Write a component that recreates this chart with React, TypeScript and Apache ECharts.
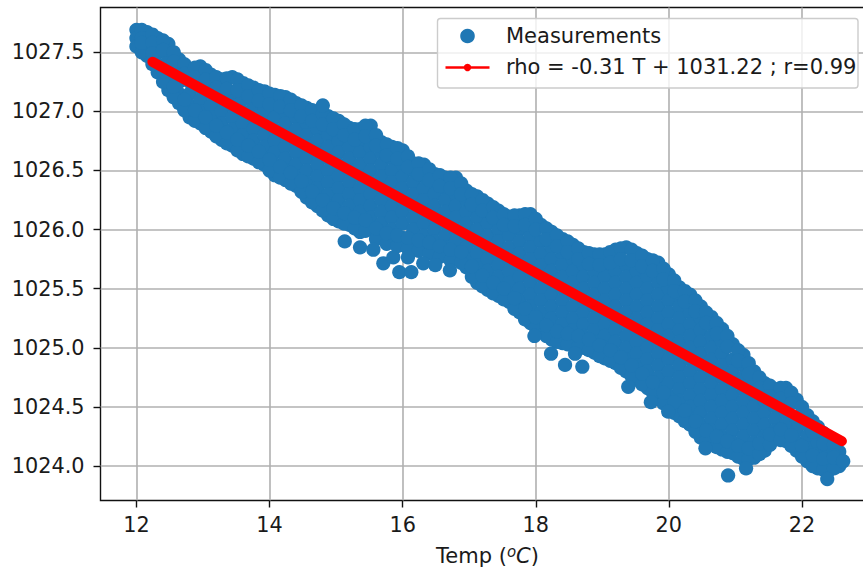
import React, { useEffect, useRef } from "react";
import * as echarts from "echarts";

const xTicks = [12, 14, 16, 18, 20, 22];
const yTicks = [1024, 1024.5, 1025, 1025.5, 1026, 1026.5, 1027, 1027.5];
const legendPoints = "Measurements";
const legendFit = "rho = -0.31 T + 1031.22 ; r=0.99";

const tempColumns = [
  12, 12.16, 12.32, 12.48, 12.64, 12.8, 12.96, 13.12, 13.28, 13.44, 13.6, 13.76, 13.92, 14.08, 14.24, 14.4, 14.56,
  14.72, 14.88, 15.04, 15.2, 15.36, 15.52, 15.68, 15.84, 16, 16.16, 16.32, 16.48, 16.64, 16.8, 16.96, 17.12, 17.28,
  17.44, 17.6, 17.76, 17.92, 18.08, 18.24, 18.4, 18.56, 18.72, 18.88, 19.04, 19.2, 19.36, 19.52, 19.68, 19.84, 20,
  20.16, 20.32, 20.48, 20.64, 20.8, 20.96, 21.12, 21.28, 21.44, 21.6, 21.76, 21.92, 22.08, 22.24, 22.4, 22.56,
];

const rhoColumns = [
  [1027.69, 1027.62, 1027.55],
  [1027.67, 1027.57, 1027.47],
  [1027.62, 1027.5, 1027.4, 1027.33],
  [1027.57, 1027.45, 1027.35, 1027.25, 1027.18],
  [1027.44, 1027.35, 1027.25, 1027.15, 1027.07],
  [1027.36, 1027.25, 1027.15, 1027.05, 1026.95],
  [1027.38, 1027.3, 1027.2, 1027.1, 1027.0, 1026.9],
  [1027.31, 1027.25, 1027.15, 1027.05, 1026.95, 1026.83],
  [1027.27, 1027.2, 1027.1, 1027.0, 1026.9, 1026.8, 1026.76],
  [1027.29, 1027.15, 1027.05, 1026.95, 1026.85, 1026.75, 1026.71],
  [1027.24, 1027.1, 1027.0, 1026.9, 1026.8, 1026.7, 1026.64],
  [1027.2, 1027.15, 1027.05, 1026.95, 1026.85, 1026.75, 1026.65, 1026.6],
  [1027.17, 1027.1, 1027.0, 1026.9, 1026.8, 1026.7, 1026.6, 1026.55],
  [1027.14, 1027.05, 1026.95, 1026.85, 1026.75, 1026.65, 1026.55, 1026.46],
  [1027.12, 1027.0, 1026.9, 1026.8, 1026.7, 1026.6, 1026.5, 1026.42],
  [1027.07, 1026.95, 1026.85, 1026.75, 1026.65, 1026.55, 1026.45, 1026.37],
  [1027.03, 1026.9, 1026.8, 1026.7, 1026.6, 1026.5, 1026.4, 1026.3, 1026.27],
  [1026.99, 1026.95, 1026.85, 1026.75, 1026.65, 1026.55, 1026.45, 1026.35, 1026.25, 1026.2],
  [1026.96, 1026.9, 1026.8, 1026.7, 1026.6, 1026.5, 1026.4, 1026.3, 1026.2, 1026.12],
  [1026.92, 1026.85, 1026.75, 1026.65, 1026.55, 1026.45, 1026.35, 1026.25, 1026.15, 1026.07],
  [1026.86, 1026.8, 1026.7, 1026.6, 1026.5, 1026.4, 1026.3, 1026.2, 1026.1, 1026.04],
  [1026.85, 1026.75, 1026.65, 1026.55, 1026.45, 1026.35, 1026.25, 1026.15, 1026.05, 1025.98],
  [1026.88, 1026.8, 1026.7, 1026.6, 1026.5, 1026.4, 1026.3, 1026.2, 1026.1, 1026.0],
  [1026.74, 1026.65, 1026.55, 1026.45, 1026.35, 1026.25, 1026.15, 1026.05, 1025.97],
  [1026.7, 1026.6, 1026.5, 1026.4, 1026.3, 1026.2, 1026.1, 1026.0, 1025.95],
  [1026.67, 1026.55, 1026.45, 1026.35, 1026.25, 1026.15, 1026.05, 1025.93],
  [1026.56, 1026.5, 1026.4, 1026.3, 1026.2, 1026.1, 1026.0, 1025.91],
  [1026.55, 1026.45, 1026.35, 1026.25, 1026.15, 1026.05, 1025.95, 1025.89],
  [1026.47, 1026.4, 1026.3, 1026.2, 1026.1, 1026.0, 1025.9, 1025.84],
  [1026.44, 1026.35, 1026.25, 1026.15, 1026.05, 1025.95, 1025.85, 1025.82],
  [1026.44, 1026.3, 1026.2, 1026.1, 1026.0, 1025.9, 1025.8, 1025.76],
  [1026.33, 1026.25, 1026.15, 1026.05, 1025.95, 1025.85, 1025.75, 1025.68],
  [1026.28, 1026.2, 1026.1, 1026.0, 1025.9, 1025.8, 1025.7, 1025.6, 1025.55],
  [1026.22, 1026.15, 1026.05, 1025.95, 1025.85, 1025.75, 1025.65, 1025.55, 1025.49],
  [1026.16, 1026.1, 1026.0, 1025.9, 1025.8, 1025.7, 1025.6, 1025.5, 1025.44],
  [1026.11, 1026.05, 1025.95, 1025.85, 1025.75, 1025.65, 1025.55, 1025.45, 1025.39],
  [1026.12, 1026.0, 1025.9, 1025.8, 1025.7, 1025.6, 1025.5, 1025.4, 1025.3],
  [1026.13, 1026.05, 1025.95, 1025.85, 1025.75, 1025.65, 1025.55, 1025.45, 1025.35, 1025.25, 1025.21],
  [1026.04, 1025.9, 1025.8, 1025.7, 1025.6, 1025.5, 1025.4, 1025.3, 1025.2, 1025.14],
  [1025.98, 1025.85, 1025.75, 1025.65, 1025.55, 1025.45, 1025.35, 1025.25, 1025.15, 1025.07],
  [1025.92, 1025.8, 1025.7, 1025.6, 1025.5, 1025.4, 1025.3, 1025.2, 1025.1, 1025.04],
  [1025.87, 1025.75, 1025.65, 1025.55, 1025.45, 1025.35, 1025.25, 1025.15, 1025.05, 1025.02],
  [1025.81, 1025.7, 1025.6, 1025.5, 1025.4, 1025.3, 1025.2, 1025.1, 1025.0],
  [1025.79, 1025.65, 1025.55, 1025.45, 1025.35, 1025.25, 1025.15, 1025.05, 1024.96],
  [1025.79, 1025.7, 1025.6, 1025.5, 1025.4, 1025.3, 1025.2, 1025.1, 1025.0, 1024.91],
  [1025.83, 1025.75, 1025.65, 1025.55, 1025.45, 1025.35, 1025.25, 1025.15, 1025.05, 1024.95, 1024.87],
  [1025.85, 1025.7, 1025.6, 1025.5, 1025.4, 1025.3, 1025.2, 1025.1, 1025.0, 1024.9, 1024.8],
  [1025.8, 1025.65, 1025.55, 1025.45, 1025.35, 1025.25, 1025.15, 1025.05, 1024.95, 1024.85, 1024.73],
  [1025.75, 1025.6, 1025.5, 1025.4, 1025.3, 1025.2, 1025.1, 1025.0, 1024.9, 1024.8, 1024.7, 1024.66],
  [1025.72, 1025.65, 1025.55, 1025.45, 1025.35, 1025.25, 1025.15, 1025.05, 1024.95, 1024.85, 1024.75, 1024.65, 1024.58],
  [1025.62, 1025.5, 1025.4, 1025.3, 1025.2, 1025.1, 1025.0, 1024.9, 1024.8, 1024.7, 1024.6, 1024.49],
  [1025.51, 1025.45, 1025.35, 1025.25, 1025.15, 1025.05, 1024.95, 1024.85, 1024.75, 1024.65, 1024.55, 1024.42],
  [1025.45, 1025.3, 1025.2, 1025.1, 1025.0, 1024.9, 1024.8, 1024.7, 1024.6, 1024.5, 1024.4, 1024.35],
  [1025.35, 1025.25, 1025.15, 1025.05, 1024.95, 1024.85, 1024.75, 1024.65, 1024.55, 1024.45, 1024.35, 1024.24],
  [1025.26, 1025.2, 1025.1, 1025.0, 1024.9, 1024.8, 1024.7, 1024.6, 1024.5, 1024.4, 1024.3, 1024.19],
  [1025.16, 1025.05, 1024.95, 1024.85, 1024.75, 1024.65, 1024.55, 1024.45, 1024.35, 1024.25, 1024.14],
  [1025.03, 1024.9, 1024.8, 1024.7, 1024.6, 1024.5, 1024.4, 1024.3, 1024.2, 1024.11],
  [1024.94, 1024.85, 1024.75, 1024.65, 1024.55, 1024.45, 1024.35, 1024.25, 1024.15, 1024.06],
  [1024.8, 1024.7, 1024.6, 1024.5, 1024.4, 1024.3, 1024.2, 1024.1, 1024.07],
  [1024.7, 1024.65, 1024.55, 1024.45, 1024.35, 1024.25, 1024.13],
  [1024.65, 1024.5, 1024.4, 1024.3, 1024.23],
  [1024.66, 1024.55, 1024.45, 1024.35, 1024.21],
  [1024.56, 1024.4, 1024.3, 1024.2, 1024.13],
  [1024.43, 1024.35, 1024.25, 1024.15, 1024.04],
  [1024.33, 1024.2, 1024.1, 1023.98],
  [1024.23, 1024.15, 1024.05, 1023.96],
  [1024.12, 1024.05, 1024.0],
];

const edgeTemps = [
  12.08, 12.24, 12.4, 12.56, 12.72, 12.88, 13.04, 13.2, 13.36, 13.52, 13.68, 13.84, 14, 14.16, 14.32, 14.48, 14.64,
  14.8, 14.96, 15.12, 15.28, 15.44, 15.6, 15.76, 15.92, 16.08, 16.24, 16.4, 16.56, 16.72, 16.88, 17.04, 17.2, 17.36,
  17.52, 17.68, 17.84, 18, 18.16, 18.32, 18.48, 18.64, 18.8, 18.96, 19.12, 19.28, 19.44, 19.6, 19.76, 19.92, 20.08,
  20.24, 20.4, 20.56, 20.72, 20.88, 21.04, 21.2, 21.36, 21.52, 21.68, 21.84, 22, 22.16, 22.32, 22.48,
];
const upperEdgeRhos = [
  1027.69, 1027.65, 1027.6, 1027.5, 1027.4, 1027.37, 1027.35, 1027.29, 1027.28, 1027.27, 1027.22, 1027.18, 1027.15,
  1027.13, 1027.1, 1027.05, 1027.01, 1026.98, 1026.94, 1026.89, 1026.85, 1026.88, 1026.8, 1026.72, 1026.69, 1026.62,
  1026.56, 1026.51, 1026.46, 1026.44, 1026.39, 1026.3, 1026.25, 1026.19, 1026.13, 1026.12, 1026.13, 1026.09, 1026.01,
  1025.95, 1025.9, 1025.84, 1025.8, 1025.79, 1025.81, 1025.84, 1025.83, 1025.78, 1025.74, 1025.67, 1025.57, 1025.48,
  1025.4, 1025.3, 1025.21, 1025.1, 1024.98, 1024.87, 1024.75, 1024.68, 1024.66, 1024.62, 1024.5, 1024.38, 1024.28,
  1024.18,
];
const upperInnerRhos = [
  1027.62, 1027.58, 1027.52, 1027.42, 1027.32, 1027.29, 1027.27, 1027.2, 1027.19, 1027.18, 1027.13, 1027.09, 1027.06,
  1027.04, 1027.01, 1026.96, 1026.92, 1026.89, 1026.85, 1026.8, 1026.76, 1026.79, 1026.71, 1026.63, 1026.6, 1026.53,
  1026.47, 1026.42, 1026.37, 1026.35, 1026.3, 1026.21, 1026.16, 1026.1, 1026.04, 1026.03, 1026.04, 1026.0, 1025.92,
  1025.86, 1025.81, 1025.75, 1025.71, 1025.7, 1025.72, 1025.75, 1025.74, 1025.69, 1025.65, 1025.58, 1025.48, 1025.39,
  1025.31, 1025.21, 1025.12, 1025.01, 1024.89, 1024.78, 1024.66, 1024.59, 1024.57, 1024.53, 1024.41, 1024.29, 1024.19,
  1024.09,
];
const lowerEdgeRhos = [
  1027.5, 1027.4, 1027.25, 1027.12, 1027.01, 1026.92, 1026.86, 1026.79, 1026.73, 1026.67, 1026.62, 1026.57, 1026.5,
  1026.44, 1026.39, 1026.32, 1026.23, 1026.16, 1026.09, 1026.05, 1026.01, 1025.99, 1025.92, 1025.88, 1025.86, 1025.84,
  1025.82, 1025.8, 1025.77, 1025.74, 1025.72, 1025.6, 1025.52, 1025.46, 1025.41, 1025.33, 1025.24, 1025.17, 1025.1,
  1025.05, 1025.03, 1025.01, 1024.98, 1024.93, 1024.89, 1024.83, 1024.76, 1024.69, 1024.62, 1024.53, 1024.45, 1024.38,
  1024.29, 1024.21, 1024.16, 1024.12, 1024.08, 1024.06, 1024.1, 1024.18, 1024.22, 1024.17, 1024.08, 1024.0, 1023.97,
  1023.98,
];
const lowerInnerRhos = [
  1027.58, 1027.49, 1027.34, 1027.21, 1027.1, 1027.01, 1026.95, 1026.88, 1026.82, 1026.76, 1026.71, 1026.66, 1026.59,
  1026.53, 1026.48, 1026.41, 1026.32, 1026.25, 1026.18, 1026.14, 1026.1, 1026.08, 1026.01, 1025.97, 1025.95, 1025.93,
  1025.91, 1025.89, 1025.86, 1025.83, 1025.81, 1025.69, 1025.61, 1025.55, 1025.5, 1025.42, 1025.33, 1025.26, 1025.19,
  1025.14, 1025.12, 1025.1, 1025.07, 1025.02, 1024.98, 1024.92, 1024.85, 1024.78, 1024.71, 1024.62, 1024.54, 1024.47,
  1024.38, 1024.3, 1024.25, 1024.21, 1024.17, 1024.15, 1024.19, 1024.27, 1024.31, 1024.26, 1024.17, 1024.09, 1024.06,
  1024.07,
];

const strayTemps = [
  14.8, 15.13, 15.36, 15.56, 15.71, 15.86, 15.95, 16.08, 16.13, 16.31, 16.49, 16.71, 17.98, 18.23, 18.44, 18.59,
  18.7, 19.39, 19.73, 19.99, 20.55, 20.89, 21.16, 22.38, 22.62,
];
const strayRhos = [
  1027.05, 1025.9, 1025.85, 1025.83, 1025.715, 1025.765, 1025.64, 1025.765, 1025.64, 1025.715, 1025.7, 1025.655,
  1025.1, 1024.95, 1024.855, 1024.95, 1024.84, 1024.67, 1024.54, 1024.46, 1024.15, 1023.92, 1023.98, 1023.89, 1024.04,
];

const fitTemps = [12.24, 22.6];
const fitRhos = [1027.42, 1024.21];

const measurementPoints: number[][] = [];
tempColumns.forEach((t, i) => rhoColumns[i].forEach((r) => measurementPoints.push([t, r])));
edgeTemps.forEach((t, i) => {
  measurementPoints.push([t, upperEdgeRhos[i]]);
  measurementPoints.push([t, upperInnerRhos[i]]);
  measurementPoints.push([t, lowerEdgeRhos[i]]);
  measurementPoints.push([t, lowerInnerRhos[i]]);
});
strayTemps.forEach((t, i) => measurementPoints.push([t, strayRhos[i]]));

const FONT = "DejaVu Sans";
const TEXT = "#1a1a1a";
const FS = 20.8;

export default function App() {
  const ref = useRef<HTMLDivElement>(null);
  useEffect(() => {
    document.body.style.margin = "0";
    const chart = echarts.init(ref.current!, undefined, { renderer: "svg" });
    chart.setOption({
      animation: false,
      backgroundColor: "#fff",
      grid: {
        left: 100.5,
        top: 7.5,
        width: 774,
        height: 493,
        show: true,
        borderColor: "#111",
        borderWidth: 1.4,
        backgroundColor: "transparent",
      },
      xAxis: {
        type: "value",
        min: 11.46,
        max: 23.09,
        name: "{n|Temp (}{s|o}{i|C}{n|)}",
        nameLocation: "middle",
        nameGap: 44,
        nameTextStyle: {
          rich: {
            n: { fontFamily: FONT, fontSize: 21, color: TEXT },
            s: { fontFamily: FONT, fontSize: 15, fontStyle: "italic", color: TEXT, padding: [0, 0, 8, 0] },
            i: { fontFamily: FONT, fontSize: 21, fontStyle: "italic", color: TEXT },
          },
        },
        axisLine: { show: false },
        axisTick: { show: true, customValues: xTicks, length: 7, lineStyle: { color: "#111", width: 1.4 } },
        axisLabel: {
          customValues: xTicks,
          margin: 14,
          fontFamily: FONT,
          fontSize: FS,
          color: TEXT,
        },
        splitLine: { show: true, lineStyle: { color: "#b0b0b0", width: 1.6 } },
      },
      yAxis: {
        type: "value",
        min: 1023.708,
        max: 1027.879,
        scale: true,
        axisLine: { show: false },
        axisTick: { show: true, customValues: yTicks, length: 7, lineStyle: { color: "#111", width: 1.4 } },
        axisLabel: {
          customValues: yTicks,
          margin: 16,
          fontFamily: FONT,
          fontSize: FS,
          color: TEXT,
          formatter: (v: number) => v.toFixed(1),
        },
        splitLine: { show: true, lineStyle: { color: "#b0b0b0", width: 1.6 } },
      },
      series: [
        {
          name: legendPoints,
          type: "scatter",
          data: measurementPoints,
          symbolSize: 14.3,
          itemStyle: { color: "#1f77b4", opacity: 1 },
          silent: true,
          z: 3,
        },
        {
          name: legendFit,
          type: "line",
          data: fitTemps.map((t, i) => [t, fitRhos[i]]),
          showSymbol: false,
          lineStyle: { color: "#ff0000", width: 10, cap: "round" },
          silent: true,
          z: 4,
        },
      ],
      graphic: [
        {
          type: "rect",
          z: 10,
          shape: { x: 437.5, y: 18.5, width: 420.5, height: 69.5, r: 3 },
          style: { fill: "rgba(255,255,255,0.8)", stroke: "#cccccc", lineWidth: 1.4 },
        },
        { type: "circle", z: 11, shape: { cx: 467.5, cy: 36, r: 7.3 }, style: { fill: "#1f77b4" } },
        {
          type: "text",
          z: 11,
          x: 506,
          y: 36,
          style: { text: legendPoints, fontFamily: FONT, fontSize: 21, fill: TEXT, verticalAlign: "middle" },
        },
        {
          type: "line",
          z: 11,
          shape: { x1: 445.5, y1: 67.5, x2: 489.5, y2: 67.5 },
          style: { stroke: "#ff0000", lineWidth: 2.6 },
        },
        { type: "circle", z: 12, shape: { cx: 467.5, cy: 67.5, r: 3.7 }, style: { fill: "#ff0000" } },
        {
          type: "text",
          z: 11,
          x: 506,
          y: 67,
          style: { text: legendFit, fontFamily: FONT, fontSize: 21, fill: TEXT, verticalAlign: "middle" },
        },
      ],
    });
    return () => chart.dispose();
  }, []);
  return (
    <div style={{ width: 863, height: 573, overflow: "hidden" }}>
      <div ref={ref} style={{ width: 880, height: 573 }} />
    </div>
  );
}
